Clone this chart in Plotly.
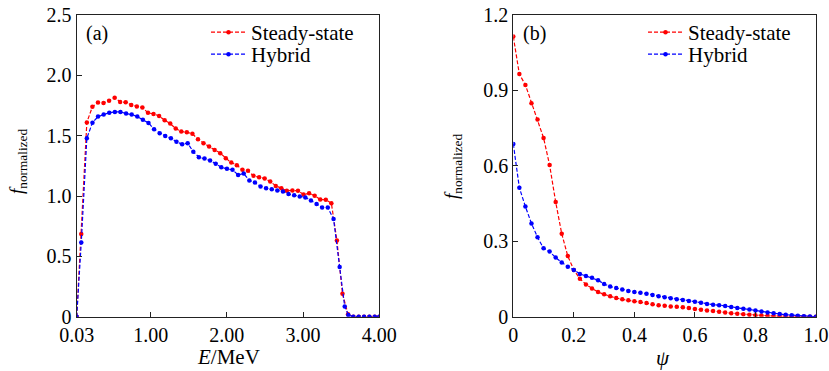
import plotly.graph_objects as go

# ---------------- Data: panel (a) ----------------
E_steady = [0.03, 0.09, 0.163, 0.236, 0.309, 0.382, 0.455, 0.528, 0.600, 0.673,
            0.746, 0.819, 0.892, 0.965, 1.038, 1.111, 1.184, 1.257, 1.329, 1.402,
            1.475, 1.548, 1.621, 1.694, 1.767, 1.840, 1.913, 1.986, 2.058, 2.131,
            2.204, 2.277, 2.350, 2.423, 2.496, 2.569, 2.642, 2.715, 2.787, 2.860,
            2.933, 3.006, 3.079, 3.152, 3.225, 3.298, 3.371, 3.444, 3.517, 3.590,
            3.66, 3.73, 3.80, 3.87, 3.94, 4.00]
f_steady = [0, 0.685, 1.61, 1.74, 1.774, 1.77, 1.79, 1.815, 1.78, 1.777,
            1.755, 1.741, 1.733, 1.689, 1.68, 1.664, 1.628, 1.60, 1.559, 1.534,
            1.529, 1.515, 1.471, 1.438, 1.410, 1.382, 1.355, 1.314, 1.277, 1.256,
            1.217, 1.209, 1.167, 1.156, 1.145, 1.12, 1.084, 1.065, 1.043, 1.046,
            1.043, 1.013, 1.022, 1.002, 0.971, 0.969, 0.941, 0.632, 0.19, 0.02,
            0, 0, 0, 0, 0, 0]

E_hybrid = [0.03, 0.09, 0.163, 0.237, 0.310, 0.384, 0.457, 0.531, 0.604, 0.678,
            0.751, 0.825, 0.898, 0.972, 1.045, 1.119, 1.192, 1.266, 1.339, 1.413,
            1.486, 1.560, 1.633, 1.707, 1.780, 1.854, 1.927, 2.001, 2.074, 2.148,
            2.221, 2.295, 2.368, 2.442, 2.515, 2.589, 2.662, 2.736, 2.809, 2.883,
            2.956, 3.030, 3.103, 3.177, 3.250, 3.324, 3.400, 3.480, 3.546, 3.594,
            3.66, 3.73, 3.80, 3.87, 3.94, 4.00]
f_hybrid = [0, 0.615, 1.479, 1.608, 1.658, 1.675, 1.691, 1.697, 1.697, 1.683,
            1.675, 1.658, 1.631, 1.606, 1.554, 1.521, 1.498, 1.479, 1.449, 1.43,
            1.438, 1.366, 1.322, 1.311, 1.294, 1.267, 1.239, 1.225, 1.217, 1.175,
            1.186, 1.128, 1.112, 1.079, 1.065, 1.057, 1.046, 1.037, 1.016, 1.007,
            0.996, 0.988, 0.963, 0.933, 0.905, 0.905, 0.809, 0.411, 0.085, 0.014,
            0, 0, 0, 0, 0, 0]

# ---------------- Data: panel (b) ----------------
psi = [0.00, 0.02, 0.04, 0.06, 0.08, 0.10, 0.12, 0.14, 0.16, 0.18,
       0.20, 0.22, 0.24, 0.26, 0.28, 0.30, 0.32, 0.34, 0.36, 0.38,
       0.40, 0.42, 0.44, 0.46, 0.48, 0.50, 0.52, 0.54, 0.56, 0.58,
       0.60, 0.62, 0.64, 0.66, 0.68, 0.70, 0.72, 0.74, 0.76, 0.78,
       0.80, 0.82, 0.84, 0.86, 0.88, 0.90, 0.92, 0.94, 0.96, 0.98, 1.00]
g_steady = [1.114, 0.965, 0.922, 0.849, 0.784, 0.711, 0.603, 0.456, 0.330, 0.241,
            0.186, 0.151, 0.128, 0.112, 0.098, 0.089, 0.081, 0.074, 0.069, 0.065,
            0.061, 0.058, 0.054, 0.050, 0.046, 0.044, 0.041, 0.040, 0.038, 0.035,
            0.031, 0.028, 0.025, 0.023, 0.020, 0.017, 0.014, 0.012, 0.010, 0.008,
            0.006, 0.005, 0.004, 0.003, 0.002, 0.002, 0.001, 0.001, 0.0005, 0.0002, 0]
g_hybrid = [0.687, 0.513, 0.438, 0.371, 0.316, 0.272, 0.259, 0.235, 0.216, 0.199,
            0.186, 0.170, 0.162, 0.155, 0.145, 0.130, 0.120, 0.114, 0.108, 0.102,
            0.098, 0.095, 0.091, 0.086, 0.081, 0.077, 0.073, 0.069, 0.066, 0.062,
            0.059, 0.055, 0.051, 0.048, 0.046, 0.043, 0.039, 0.035, 0.032, 0.029,
            0.025, 0.021, 0.017, 0.014, 0.011, 0.008, 0.006, 0.004, 0.002, 0.001, 0]

xa_tickvals = [0.03, 1.0, 2.0, 3.0, 4.0]
xa_ticktext = ["0.03", "1.00", "2.00", "3.00", "4.00"]
ya_tickvals = [0, 0.5, 1.0, 1.5, 2.0, 2.5]
ya_ticktext = ["0", "0.5", "1.0", "1.5", "2.0", "2.5"]
xb_tickvals = [0, 0.2, 0.4, 0.6, 0.8, 1.0]
xb_ticktext = ["0", "0.2", "0.4", "0.6", "0.8", "1.0"]
yb_tickvals = [0, 0.3, 0.6, 0.9, 1.2]
yb_ticktext = ["0", "0.3", "0.6", "0.9", "1.2"]

RED = "#ff0000"
BLUE = "#0000ff"
FONT = "'Liberation Serif', 'DejaVu Serif', 'Times New Roman', Times, serif"
W, H = 829, 371

def tr(x, y, name, color, xa, ya, legend):
    return go.Scatter(x=x, y=y, name=name, mode="lines+markers",
                      line=dict(color=color, width=1.2, dash="4px,2px"),
                      marker=dict(color=color, size=4.5),
                      xaxis=xa, yaxis=ya, legend=legend)

fig = go.Figure()
fig.add_trace(tr(E_steady, f_steady, "Steady-state", RED, "x", "y", "legend"))
fig.add_trace(tr(E_hybrid, f_hybrid, "Hybrid", BLUE, "x", "y", "legend2"))
fig.add_trace(tr(psi, g_steady, "Steady-state", RED, "x2", "y2", "legend3"))
fig.add_trace(tr(psi, g_hybrid, "Hybrid", BLUE, "x2", "y2", "legend4"))

def px_x(v):
    return v / W

def px_y(v):
    return 1 - v / H

axis_common = dict(showline=True, mirror=True, linecolor="#222", linewidth=1.3,
                   ticks="inside", ticklen=5, tickwidth=1, tickcolor="#222",
                   showgrid=False, zeroline=False, automargin=False,
                   ticklabeloverflow="allow",
                   tickfont=dict(family=FONT, size=20, color="black"))

LEG_FONT = dict(family=FONT, size=21, color="black")

def leg(xpx, ycenter):
    return dict(x=px_x(xpx), y=px_y(ycenter - 21), xanchor="left", yanchor="top",
                bgcolor="rgba(0,0,0,0)", font=LEG_FONT, itemwidth=35)

ydom = [px_y(316.7), px_y(15)]
fig.update_layout(
    width=W, height=H, margin=dict(l=0, r=0, t=0, b=0, autoexpand=False),
    paper_bgcolor="white", plot_bgcolor="white",
    font=dict(family=FONT, color="black"),
    xaxis=dict(domain=[px_x(76.7), px_x(379.3)], range=[0.03, 4.0],
               tickvals=xa_tickvals, ticktext=xa_ticktext, anchor="y", **axis_common),
    yaxis=dict(domain=ydom, range=[0, 2.5], tickvals=ya_tickvals,
               ticktext=ya_ticktext, anchor="x", **axis_common),
    xaxis2=dict(domain=[px_x(513.3), px_x(816)], range=[0, 1.0],
                tickvals=xb_tickvals, ticktext=xb_ticktext, anchor="y2", **axis_common),
    yaxis2=dict(domain=ydom, range=[0, 1.2], tickvals=yb_tickvals,
                ticktext=yb_ticktext, anchor="x2", **axis_common),
    legend=leg(206, 33),
    legend2=leg(206, 55),
    legend3=leg(643, 33),
    legend4=leg(643, 55),
    showlegend=True,
)

ann = [
    dict(text="(a)", x=px_x(84), y=px_y(33), xanchor="left", yanchor="middle",
         font=dict(size=20)),
    dict(text="(b)", x=px_x(521), y=px_y(33), xanchor="left", yanchor="middle",
         font=dict(size=20)),
    dict(text="<i>E</i>/MeV", x=px_x(228), y=px_y(357), xanchor="center",
         yanchor="middle", font=dict(size=21)),
    dict(text="<i>ψ</i>", x=px_x(663), y=px_y(358), xanchor="center",
         yanchor="middle", font=dict(size=21)),
    dict(text="<i>f</i><sub>normalized</sub>", x=px_x(18), y=px_y(162),
         xanchor="center", yanchor="middle", textangle=-90, font=dict(size=19)),
    dict(text="<i>f</i><sub>normalized</sub>", x=px_x(453), y=px_y(166),
         xanchor="center", yanchor="middle", textangle=-90, font=dict(size=19)),
]
for a in ann:
    a.update(xref="paper", yref="paper", showarrow=False)
    a["font"].update(family=FONT, color="black")
fig.update_layout(annotations=ann)

fig.write_html("out.html", config={"displayModeBar": False},
               post_script="document.body.style.margin='0';"
                           "document.documentElement.style.overflow='hidden';")
